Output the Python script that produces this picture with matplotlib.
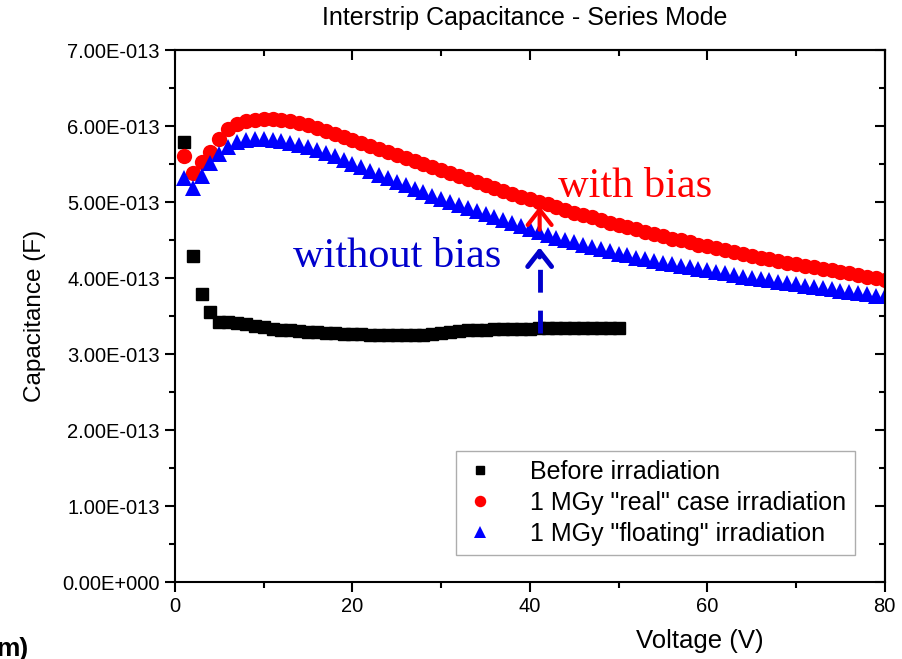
import numpy as np
import matplotlib
matplotlib.use("Agg")
import matplotlib.pyplot as plt
from matplotlib.ticker import MultipleLocator, FuncFormatter

plt.rcParams['font.family'] = ['Liberation Sans', 'DejaVu Sans']

# Before irradiation, 1..50 V
volt_before = list(range(1, 51))
cap_before = [5.79, 4.29, 3.79, 3.55, 3.42, 3.42, 3.41, 3.39, 3.37, 3.35,
              3.33, 3.32, 3.31, 3.30, 3.29, 3.285, 3.28, 3.275, 3.27, 3.265,
              3.26, 3.255, 3.25, 3.25, 3.25, 3.25, 3.25, 3.25, 3.27, 3.28,
              3.29, 3.30, 3.31, 3.315, 3.32, 3.325, 3.33, 3.33, 3.335, 3.335,
              3.34, 3.34, 3.34, 3.34, 3.34, 3.34, 3.34, 3.34, 3.34, 3.34]

# 1 MGy "real" and "floating", 1..80 V
volt_irr = list(range(1, 81))
cap_real = [5.61, 5.38, 5.53, 5.66, 5.83, 5.96, 6.03, 6.07, 6.08, 6.09,
            6.09, 6.08, 6.06, 6.04, 6.01, 5.98, 5.94, 5.90, 5.86, 5.82,
            5.78, 5.74, 5.70, 5.66, 5.62, 5.58, 5.54, 5.50, 5.46, 5.42,
            5.38, 5.34, 5.30, 5.26, 5.22, 5.19, 5.15, 5.11, 5.07, 5.04,
            5.00, 4.97, 4.93, 4.90, 4.86, 4.83, 4.80, 4.76, 4.73, 4.70,
            4.67, 4.64, 4.61, 4.58, 4.55, 4.52, 4.50, 4.47, 4.44, 4.42,
            4.39, 4.37, 4.34, 4.32, 4.29, 4.27, 4.25, 4.22, 4.20, 4.18,
            4.16, 4.14, 4.12, 4.10, 4.08, 4.06, 4.04, 4.02, 4.00, 3.98]
cap_float = [5.32, 5.19, 5.34, 5.52, 5.63, 5.73, 5.79, 5.82, 5.83, 5.83,
             5.82, 5.80, 5.78, 5.75, 5.72, 5.68, 5.64, 5.60, 5.55, 5.50,
             5.46, 5.41, 5.36, 5.31, 5.26, 5.22, 5.17, 5.13, 5.08, 5.04,
             5.00, 4.96, 4.92, 4.88, 4.84, 4.80, 4.76, 4.72, 4.68, 4.64,
             4.60, 4.57, 4.53, 4.50, 4.47, 4.44, 4.41, 4.38, 4.35, 4.32,
             4.30, 4.27, 4.25, 4.22, 4.20, 4.18, 4.16, 4.14, 4.12, 4.10,
             4.08, 4.06, 4.04, 4.02, 4.00, 3.99, 3.97, 3.95, 3.93, 3.92,
             3.90, 3.88, 3.87, 3.85, 3.83, 3.82, 3.80, 3.79, 3.77, 3.76]

labels = ['Before irradiation', '1 MGy "real" case irradiation',
          '1 MGy "floating" irradiation']

# arrow positions (V, x1e-13 F)
arrow_v = 41.1
bias_off = (3.28, 4.44)
bias_on = (4.60, 4.98)

scale = 1e-13


def sci_fmt(v, pos):
    if v == 0:
        return '0.00E+000'
    exp = int(np.floor(np.log10(abs(v)) + 1e-9))
    mant = v / 10 ** exp
    return '%.2fE%s%03d' % (mant, '-' if exp < 0 else '+', abs(exp))


fig = plt.figure(figsize=(9.03, 6.59), dpi=100)
ax = fig.add_axes([0.1938, 0.1168, 0.786, 0.8073])

ax.plot(volt_before, np.array(cap_before) * scale, 's', color='black',
        markersize=8, linestyle='none', label=labels[0])
ax.plot(volt_irr, np.array(cap_real) * scale, 'o', color='red',
        markersize=11, markeredgewidth=0, linestyle='none', label=labels[1])
ax.plot(volt_irr, np.array(cap_float) * scale, '^', color='blue',
        markersize=11.5, markeredgewidth=0, linestyle='none', label=labels[2])

ax.set_xlim(0, 80)
ax.set_ylim(0, 7e-13)
ax.xaxis.set_major_locator(MultipleLocator(20))
ax.xaxis.set_minor_locator(MultipleLocator(10))
ax.yaxis.set_major_locator(MultipleLocator(1e-13))
ax.yaxis.set_minor_locator(MultipleLocator(0.5e-13))
ax.yaxis.set_major_formatter(FuncFormatter(sci_fmt))
ax.tick_params(which='major', direction='out', length=7, width=1.5,
               labelsize=14.5, pad=4)
ax.tick_params(which='minor', direction='out', length=4, width=1.5)
for s in ax.spines.values():
    s.set_linewidth(1.5)

top = ax.secondary_xaxis('top')
top.xaxis.set_major_locator(MultipleLocator(20))
top.xaxis.set_minor_locator(MultipleLocator(10))
top.tick_params(which='major', direction='in', length=7, width=1.5, labeltop=False)
top.tick_params(which='minor', direction='in', length=4, width=1.5)
right = ax.secondary_yaxis('right')
right.yaxis.set_major_locator(MultipleLocator(1e-13))
right.yaxis.set_minor_locator(MultipleLocator(0.5e-13))
right.tick_params(which='major', direction='in', length=7, width=1.5, labelright=False)
right.tick_params(which='minor', direction='in', length=4, width=1.5)
top.spines['top'].set_linewidth(1.5)
right.spines['right'].set_linewidth(1.5)

fig.text(0.581, 0.9727, 'Interstrip Capacitance - Series Mode', fontsize=18,
         ha='center', va='center')
ax.set_xlabel('Voltage (V)', fontsize=18.5)
ax.xaxis.set_label_coords(0.739, -0.088)
ax.set_ylabel('Capacitance (F)', fontsize=17.5, labelpad=12)

# dashed blue shaft + solid open head
ax.plot([arrow_v, arrow_v], [bias_off[0] * scale, (bias_off[1] - 0.12) * scale],
        color='#0000cc', lw=3.5, linestyle=(0, (4.7, 3.7)), solid_capstyle='butt')
ax.annotate('', xy=(arrow_v, bias_off[1] * scale),
            xytext=(arrow_v, (bias_off[1] - 0.2) * scale),
            arrowprops=dict(arrowstyle='->, head_length=0.55, head_width=0.43',
                            color='#0000cc', lw=3.5, mutation_scale=20))
ax.annotate('', xy=(arrow_v, bias_on[1] * scale), xytext=(arrow_v, bias_on[0] * scale),
            arrowprops=dict(arrowstyle='->, head_length=0.55, head_width=0.43',
                            color='red', lw=3, mutation_scale=20))

ax.text(43.2, 5.2e-13, 'with bias', color='red', fontsize=30.5,
        family='Liberation Serif', va='center')
ax.text(13.3, 4.28e-13, 'without bias', color='#0000cc', fontsize=30.5,
        family='Liberation Serif', va='center')

leg = ax.legend(loc='lower right', bbox_to_anchor=(0.958, 0.051), fontsize=18,
                markerscale=0.75, frameon=True, fancybox=False, borderpad=0.35,
                borderaxespad=0, handlelength=1.2, handletextpad=1.4,
                labelspacing=0.28)
leg.get_frame().set_edgecolor('#999999')
leg.get_frame().set_linewidth(1)

fig.text(-0.004, 0.005, 'm)', fontsize=19, fontweight='bold')

fig.savefig('out.png', dpi=100)
